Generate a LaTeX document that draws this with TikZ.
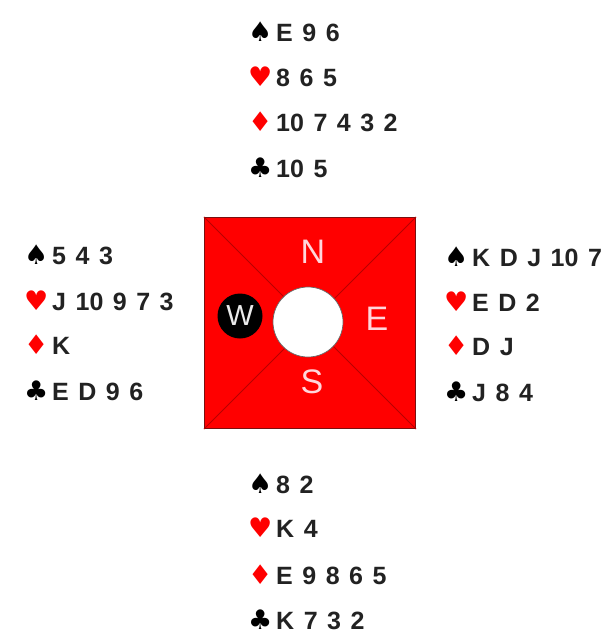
\documentclass[tikz,border=0pt]{standalone}
\usepackage{fontspec}
\setmainfont{Liberation Sans}
\newfontfamily\suitfont{DejaVu Sans}
\definecolor{txt}{HTML}{222222}
\definecolor{boardred}{HTML}{FF0000}
\definecolor{boardedge}{HTML}{7A1010}
\definecolor{diag}{HTML}{B80000}
\definecolor{letter}{HTML}{FFD6DC}
\newcommand\suitsym[2]{\makebox[28pt][l]{\suitfont\fontsize{27}{28}\selectfont\color{#1}#2}}
\newcommand\Sp{\suitsym{black}{♠}}
\newcommand\He{\suitsym{red}{♥}}
\newcommand\Di{\suitsym{red}{♦}}
\newcommand\Cl{\suitsym{black}{♣}}
\newcommand\handfont{\fontsize{25}{28}\selectfont\bfseries}
\newcommand\hh[1]{{\spaceskip=9.5pt\relax #1}}
\begin{document}
\begin{tikzpicture}[x=1pt,y=-1pt,
  hand/.style={anchor=base west,inner sep=0pt,text=txt,font=\handfont},
  compass/.style={inner sep=0pt,text=letter,font=\fontsize{34}{36}\selectfont}]
\useasboundingbox[fill=white] (0,0) rectangle (609,637);
% board
\node[draw=boardedge,line width=1.2pt,fill=boardred,minimum size=211pt,inner sep=0pt] (board) at (310,323) {};
\draw[diag,line width=0.8pt] (board.north west) -- (board.south east);
\draw[diag,line width=0.8pt] (board.north east) -- (board.south west);
\node[circle,fill=white,draw=black!60,line width=0.7pt,minimum size=70pt,inner sep=0pt] (hole) at (308,322) {};
\node[circle,fill=black,minimum size=45pt,inner sep=0pt,text=white!92!black,font=\fontsize{29}{30}\selectfont] (W) at (240,316) {W};
\node[compass] (N) at (313,251.5) {N};
\node[compass] (E) at (377,318.5) {E};
\node[compass] (S) at (312,382) {S};
% North
\node[hand] (n1) at (248,41) {\hh{\Sp E 9 6}};
\node[hand] (n2) at (248,86) {\hh{\He 8 6 5}};
\node[hand] (n3) at (248,131) {\hh{\Di 10 7 4 3 2}};
\node[hand] (n4) at (248,177) {\hh{\Cl 10 5}};
% West
\node[hand] (w1) at (24,264) {\hh{\Sp 5 4 3}};
\node[hand] (w2) at (24,310) {\hh{\He J 10 9 7 3}};
\node[hand] (w3) at (24,354) {\hh{\Di K}};
\node[hand] (w4) at (24,400) {\hh{\Cl E D 9 6}};
% East
\node[hand] (e1) at (444,266) {\hh{\Sp K D J 10 7}};
\node[hand] (e2) at (444,311) {\hh{\He E D 2}};
\node[hand] (e3) at (444,355) {\hh{\Di D J}};
\node[hand] (e4) at (444,401) {\hh{\Cl J 8 4}};
% South
\node[hand] (s1) at (248,493) {\hh{\Sp 8 2}};
\node[hand] (s2) at (248,537) {\hh{\He K 4}};
\node[hand] (s3) at (248,584) {\hh{\Di E 9 8 6 5}};
\node[hand] (s4) at (248,629) {\hh{\Cl K 7 3 2}};
\end{tikzpicture}
\end{document}
